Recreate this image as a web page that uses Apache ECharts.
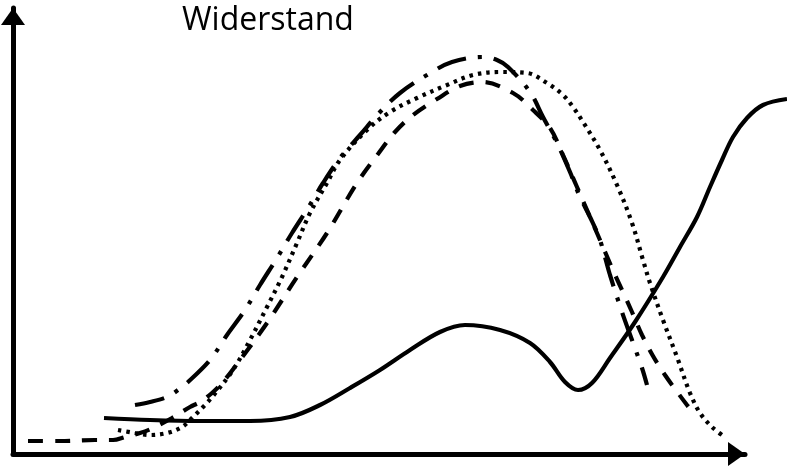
<!DOCTYPE html>
<html>
<head>
<meta charset="utf-8">
<script src="https://cdn.jsdelivr.net/npm/echarts@6/dist/echarts.min.js"></script>
<style>html,body{margin:0;padding:0;background:#fff;}#c{width:787px;height:470px;}</style>
</head>
<body>
<div id="c"></div>
<script>
var titleText = 'Widerstand';

// values (x: position along the horizontal axis, y: height above it)
var solidX  = [91,137,187,237,277,307,337,367,397,427,452,487,517,537,552,565,579,597,622,650,667,684,697,709,720,734,750,774];
var solidY  = [36,34,33,33,37,49,66,84,104,122,129,124,111,92,72,64,71,96,132,177,207,237,267,294,317,336,349,355];

var dashedX = [15,47,82,100,112,127,140,159,177,187,199,210,227,254,284,314,344,365,382,400,424,447,469,500,520,537,550,564,577,587,599,609,619,629,640,652,665,674,682];
var dashedY = [13,13,14,14,17,21,26,36,47,52,61,72,94,131,177,221,271,300,322,339,355,368,372,361,344,326,299,267,237,214,186,164,142,119,98,79,61,49,39];

var dashDotX = [122,137,154,165,175,197,214,232,247,264,279,295,310,327,347,367,387,414,439,470,484,495,517,530,544,557,567,577,587,597,609,619,629,634];
var dashDotY = [49,52,57,64,72,94,119,144,169,196,221,246,271,296,319,342,361,379,392,397,394,387,362,337,311,282,257,237,214,179,142,114,86,69];

var dottedX = [105,122,137,154,169,180,192,200,220,237,254,269,284,297,314,327,354,377,404,434,460,487,514,534,550,560,570,587,604,619,630,637,650,664,677,687,699,709];
var dottedY = [24,21,19,21,27,37,49,58,84,114,147,177,211,241,271,294,324,342,356,369,379,382,381,371,359,347,332,304,269,231,194,171,134,97,61,41,27,19];

function pairs(xs, ys){ return xs.map(function(x,i){ return [x, ys[i]]; }); }

var chart = echarts.init(document.getElementById('c'), null, {renderer:'canvas'});
var arrow = 'path://M12,0 L24,17 L0,17 Z';
function lineSeries(xs, ys, dash){
  return {
    type:'line', xAxisIndex:1, yAxisIndex:1,
    data: pairs(xs, ys), smooth: 0.35, symbol:'none', clip:false,
    lineStyle:{color:'#000', width:4.2, type: dash}
  };
}
chart.setOption({
  animation:false,
  backgroundColor:'#fff',
  grid:[
    {left:13, right:42, top:8, bottom:16},
    {left:13, right:0, top:8, bottom:16}
  ],
  graphic:[{
    type:'text', left:182, top:5,
    style:{text:titleText, fontFamily:'Open Sans', fontSize:32, fill:'#000'}
  }],
  xAxis:[{
    type:'value', gridIndex:0, min:0, max:732,
    axisLine:{show:true, symbol:['none', arrow], symbolSize:[24,17], symbolOffset:[0,-8.5],
      lineStyle:{color:'#000', width:5}},
    axisTick:{show:false}, axisLabel:{show:false}, splitLine:{show:false}
  },{
    type:'value', gridIndex:1, min:0, max:774, show:false
  }],
  yAxis:[{
    type:'value', gridIndex:0, min:0, max:446,
    axisLine:{show:true, symbol:['none', arrow], symbolSize:[24,17], symbolOffset:[0,-8.5],
      lineStyle:{color:'#000', width:5}},
    axisTick:{show:false}, axisLabel:{show:false}, splitLine:{show:false}
  },{
    type:'value', gridIndex:1, min:0, max:446, show:false
  }],
  series:[
    lineSeries(solidX, solidY, 'solid'),
    lineSeries(dashedX, dashedY, [15,12]),
    lineSeries(dashDotX, dashDotY, [30,12,4,12]),
    lineSeries(dottedX, dottedY, [3.5,5])
  ]
});
</script>
</body>
</html>
